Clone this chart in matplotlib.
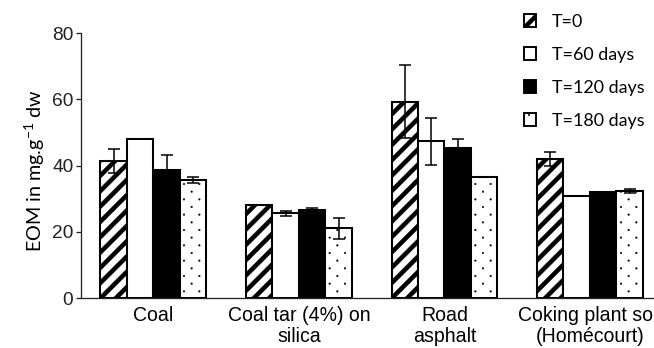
import numpy as np
import matplotlib
matplotlib.use("Agg")
import matplotlib.pyplot as plt
import matplotlib.hatch as mhatch
from matplotlib.path import Path
from matplotlib.patches import Patch

# ---------------- data ----------------
categories = ["Coal", "Coal tar (4%) on\nsilica", "Road\nasphalt", "Coking plant soil\n(Homécourt)"]
series_labels = ["T=0", "T=60 days", "T=120 days", "T=180 days"]
t0 = [41.4, 28.1, 59.3, 42.0]
t60 = [48.0, 25.6, 47.3, 30.8]
t120 = [38.7, 26.6, 45.2, 32.1]
t180 = [35.7, 21.1, 36.7, 32.3]
t0_err = [3.7, 0.0, 11.0, 2.0]
t60_err = [0.0, 0.8, 7.0, 0.0]
t120_err = [4.5, 0.7, 2.7, 0.0]
t180_err = [1.0, 3.2, 0.0, 0.6]
yticks = [0, 20, 40, 60, 80]

# ---------------- custom hatch textures ----------------
class ThickStripes(mhatch.HatchPatternBase):
    """'/' -> thick diagonal stripes drawn as filled bands."""
    def __init__(self, hatch, density):
        n = hatch.count('/')
        self.n = n * density if n else 0
        self.num_vertices = (2 * self.n + 1) * 5 if self.n else 0

    def set_vertices_and_codes(self, vertices, codes):
        t = 0.066  # vertical thickness in unit
        k = 0
        for i in range(-self.n, self.n + 1):
            c = i / self.n
            vertices[k:k + 5] = [(0, c - t / 2), (1, 1 + c - t / 2),
                                 (1, 1 + c + t / 2), (0, c + t / 2), (0, c - t / 2)]
            codes[k:k + 5] = [Path.MOVETO, Path.LINETO, Path.LINETO,
                              Path.LINETO, Path.CLOSEPOLY]
            k += 5


class SparseDots(mhatch.HatchPatternBase):
    """'.' -> small dots, rows denser than columns, staggered."""
    def __init__(self, hatch, density):
        n = hatch.count('.')
        circ = Path.unit_circle()
        self.cv = circ.vertices
        self.cc = circ.codes
        pts = []
        if n:
            ncol = density * n
            nrow = 2 * ncol
            for r in range(nrow + 1):
                y = r / nrow
                if r % 2 == 0:
                    xs = np.linspace(0, 1, ncol + 1)
                else:
                    xs = np.arange(ncol) / ncol + 0.5 / ncol
                pts += [(x, y) for x in xs]
        self.pts = pts
        self.num_vertices = len(pts) * len(self.cv)

    def set_vertices_and_codes(self, vertices, codes):
        r = 0.010
        k = len(self.cv)
        for i, (x, y) in enumerate(self.pts):
            vertices[i * k:(i + 1) * k] = self.cv * r + np.array([x, y])
            codes[i * k:(i + 1) * k] = self.cc


mhatch._hatch_types = [ThickStripes, SparseDots]
plt.rcParams['hatch.linewidth'] = 0.2

# ---------------- figure ----------------
DPI = 92
fig = plt.figure(figsize=(654 / DPI, 348 / DPI), dpi=DPI)
ax = fig.add_axes([81 / 654, (348 - 298.3) / 348, 1 - 81 / 654, (298.3 - 33) / 348])

values = [t0, t60, t120, t180]
errs = [t0_err, t60_err, t120_err, t180_err]
faces = ["white", "white", "black", "white"]
hatches = ["/", None, None, "."]
w = 0.182
x = np.arange(len(categories))

for i in range(4):
    pos = x + (i - 1.5) * w
    ax.bar(pos, values[i], width=w, color=faces[i], edgecolor="black",
           linewidth=1.6, hatch=hatches[i], zorder=2)
    e = np.array(errs[i])
    m = e > 0
    ax.errorbar(pos[m], np.array(values[i])[m], yerr=e[m], fmt="none",
                ecolor="black", elinewidth=1.2, capsize=4.7, capthick=1.2, zorder=3)

ax.set_xlim(-0.498, 3.44)
ax.set_ylim(0, 80)
ax.set_yticks(yticks)
ax.set_xticks(x)
ax.set_xticklabels(categories, fontsize=15.3, family="Liberation Sans", linespacing=1.12)
ax.tick_params(axis="x", length=0, pad=6)
ax.tick_params(axis="y", length=4, width=1, labelsize=15, pad=2, colors="#222222")
for lab in ax.get_yticklabels():
    lab.set_family("Liberation Sans")
for s in ["top", "right"]:
    ax.spines[s].set_visible(False)
for s in ["left", "bottom"]:
    ax.spines[s].set_linewidth(1.0)
    ax.spines[s].set_color("#222222")

fig.text(35 / 654, 1 - 171 / 348, "EOM in mg.g$^{\\mathregular{-1}}$ dw", rotation=90,
         ha="center", va="center", fontsize=15.5, family="Lato")

handles = [Patch(facecolor=faces[i], edgecolor="black", linewidth=1.5, hatch=hatches[i])
           for i in range(4)]
fig.legend(handles, series_labels, loc="upper left",
           bbox_to_anchor=(524 / 654, 1 - 14 / 348), frameon=False,
           prop={"family": "Lato", "size": 14}, borderpad=0, borderaxespad=0,
           handlelength=0.66, handleheight=0.75, handletextpad=0.9, labelspacing=0.95)

fig.savefig("out.png", dpi=DPI)
